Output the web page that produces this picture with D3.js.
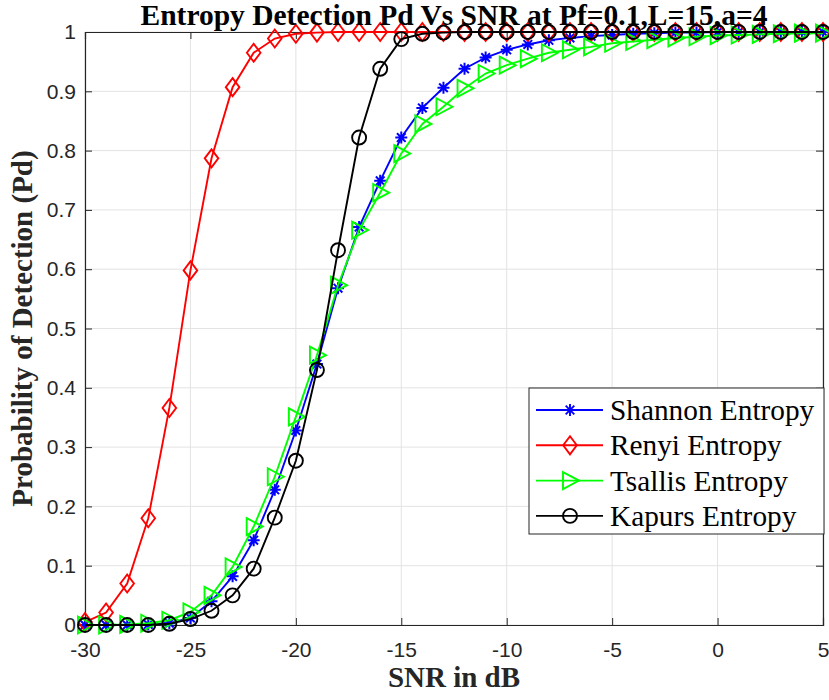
<!DOCTYPE html>
<html>
<head>
<meta charset="utf-8">
<script src="https://cdn.jsdelivr.net/npm/d3@7"></script>
<style>
html,body{margin:0;padding:0;background:#fff;}
svg{display:block;}
</style>
</head>
<body>
<svg id="chart" width="829" height="700"></svg>
<script>
const snr = d3.range(-30, 6, 1);
const shannon = [0,0,0,0.001,0.003,0.012,0.04,0.082,0.143,0.228,0.328,0.44,0.568,0.671,0.749,0.822,0.872,0.906,0.938,0.957,0.97,0.979,0.986,0.99,0.993,0.995,0.997,0.998,0.999,0.999,1,1,1,1,1,1];
const renyi = [0.005,0.021,0.07,0.18,0.366,0.598,0.787,0.907,0.965,0.989,0.997,0.999,1,1,1,1,1,1,1,1,1,1,1,1,1,1,1,1,1,1,1,1,1,1,1,1];
const tsallis = [0,0,0.001,0.003,0.008,0.022,0.05,0.098,0.166,0.25,0.351,0.455,0.573,0.666,0.729,0.795,0.845,0.874,0.905,0.93,0.944,0.955,0.965,0.97,0.975,0.981,0.984,0.987,0.99,0.992,0.994,0.995,0.996,0.997,0.998,0.998];
const kapur = [0,0,0,0,0.002,0.01,0.024,0.05,0.095,0.181,0.277,0.43,0.632,0.822,0.938,0.988,0.997,0.999,1,1,1,1,1,1,1,1,1,1,1,1,1,1,1,1,1,1];
const seriesNames = ["Shannon Entropy","Renyi Entropy","Tsallis Entropy","Kapurs Entropy"];
const xTicks = [-30,-25,-20,-15,-10,-5,0,5];
const xTickLabels = ["-30","-25","-20","-15","-10","-5","0","5"];
const yTicks = [0,0.1,0.2,0.3,0.4,0.5,0.6,0.7,0.8,0.9,1];
const yTickLabels = ["0","0.1","0.2","0.3","0.4","0.5","0.6","0.7","0.8","0.9","1"];

const series = [
  {name: seriesNames[0], values: shannon, color: "#0000ff", marker: "star"},
  {name: seriesNames[1], values: renyi, color: "#ff0000", marker: "diamond"},
  {name: seriesNames[2], values: tsallis, color: "#00ff00", marker: "tri"},
  {name: seriesNames[3], values: kapur, color: "#000000", marker: "circle"}
];

const L = 85, R = 823, T = 32, B = 625;
const svg = d3.select("#chart");
const x = d3.scaleLinear().domain([-30,5]).range([L,R]);
const y = d3.scaleLinear().domain([0,1]).range([B,T]);
const axisColor = "#262626";
const serif = "'Liberation Serif','Times New Roman',serif";
const sans = "'Liberation Sans',Arial,sans-serif";

// grid
const grid = svg.append("g");
grid.selectAll("line.gx").data(xTicks).join("line")
  .attr("x1", d => x(d)).attr("x2", d => x(d)).attr("y1", T).attr("y2", B)
  .attr("stroke", "#e3e3e3").attr("stroke-width", 1);
grid.selectAll("line.gy").data(yTicks).join("line")
  .attr("y1", d => y(d)).attr("y2", d => y(d)).attr("x1", L).attr("x2", R)
  .attr("stroke", "#e3e3e3").attr("stroke-width", 1);

// axes
const tl = 7;
const xAxisB = d3.axisBottom(x).tickValues(xTicks).tickSize(-tl).tickPadding(17).tickFormat((d,i) => xTickLabels[i]);
const xAxisT = d3.axisTop(x).tickValues(xTicks).tickSize(-tl).tickFormat("");
const yAxisL = d3.axisLeft(y).tickValues(yTicks).tickSize(-tl).tickPadding(9).tickFormat((d,i) => yTickLabels[i]);
const yAxisR = d3.axisRight(y).tickValues(yTicks).tickSize(-tl).tickFormat("");

function style(g){
  g.select(".domain").attr("stroke", axisColor).attr("stroke-width", 1.2);
  g.selectAll(".tick line").attr("stroke", axisColor).attr("stroke-width", 1);
  g.selectAll(".tick text").attr("fill", axisColor).attr("font-family", sans).attr("font-size", 21);
}
svg.append("g").attr("transform", `translate(0,${B})`).call(xAxisB).call(style);
svg.append("g").attr("transform", `translate(0,${T})`).call(xAxisT).call(style);
svg.append("g").attr("transform", `translate(${L},0)`).call(yAxisL).call(style);
svg.append("g").attr("transform", `translate(${R},0)`).call(yAxisR).call(style);

// markers
function markerPath(type){
  const p = d3.path();
  if (type === "star") {
    const s = 6;
    p.moveTo(-s,0); p.lineTo(s,0);
    p.moveTo(0,-s); p.lineTo(0,s);
    const k = s*0.72;
    p.moveTo(-k,-k); p.lineTo(k,k);
    p.moveTo(-k,k); p.lineTo(k,-k);
  } else if (type === "diamond") {
    p.moveTo(0,-9); p.lineTo(6.8,0); p.lineTo(0,9); p.lineTo(-6.8,0); p.closePath();
  } else if (type === "tri") {
    p.moveTo(-7,-8.5); p.lineTo(9,0); p.lineTo(-7,8.5); p.closePath();
  } else {
    p.arc(0,0,7,0,Math.PI*2); p.closePath();
  }
  return p.toString();
}

const line = d3.line().x(d => x(d[0])).y(d => y(d[1]));
series.forEach(s => {
  const pts = snr.map((v,i) => [v, s.values[i]]);
  const g = svg.append("g");
  g.append("path").datum(pts).attr("d", line)
    .attr("fill", "none").attr("stroke", s.color).attr("stroke-width", 1.9);
  g.selectAll("path.m").data(pts).join("path").attr("class","m")
    .attr("transform", d => `translate(${x(d[0])},${y(d[1])})`)
    .attr("d", markerPath(s.marker))
    .attr("fill", "none").attr("stroke", s.color).attr("stroke-width", s.marker === "star" ? 2 : 1.9);
});

// title & labels
svg.append("text").attr("x", (L+R)/2).attr("y", 25).attr("text-anchor","middle")
  .attr("font-family", serif).attr("font-weight","bold").attr("font-size", 29.5).attr("fill","#000")
  .text("Entropy Detection Pd Vs SNR at Pf=0.1,L=15,a=4");
svg.append("text").attr("x", (L+R)/2).attr("y", 687).attr("text-anchor","middle")
  .attr("font-family", serif).attr("font-weight","bold").attr("font-size", 29).attr("fill","#262626")
  .text("SNR in dB");
svg.append("text").attr("transform", `translate(32,${(T+B)/2}) rotate(-90)`).attr("text-anchor","middle")
  .attr("font-family", serif).attr("font-weight","bold").attr("font-size", 29).attr("fill","#262626")
  .text("Probability of Detection (Pd)");

// legend
const lg = svg.append("g");
const lx0 = 529, ly0 = 388, lw = 295, lh = 146;
lg.append("rect").attr("x", lx0).attr("y", ly0).attr("width", lw).attr("height", lh)
  .attr("fill", "#fff").attr("stroke", axisColor).attr("stroke-width", 1);
series.forEach((s,i) => {
  const cy = 410 + i*35.3;
  lg.append("line").attr("x1", 536).attr("x2", 603).attr("y1", cy).attr("y2", cy)
    .attr("stroke", s.color).attr("stroke-width", 1.9);
  lg.append("path").attr("transform", `translate(570,${cy})`).attr("d", markerPath(s.marker))
    .attr("fill","none").attr("stroke", s.color).attr("stroke-width", 1.9);
  lg.append("text").attr("x", 610).attr("y", cy + 10).attr("font-family", serif).attr("font-size", 29.3)
    .attr("fill","#000").text(s.name);
});
</script>
</body>
</html>
